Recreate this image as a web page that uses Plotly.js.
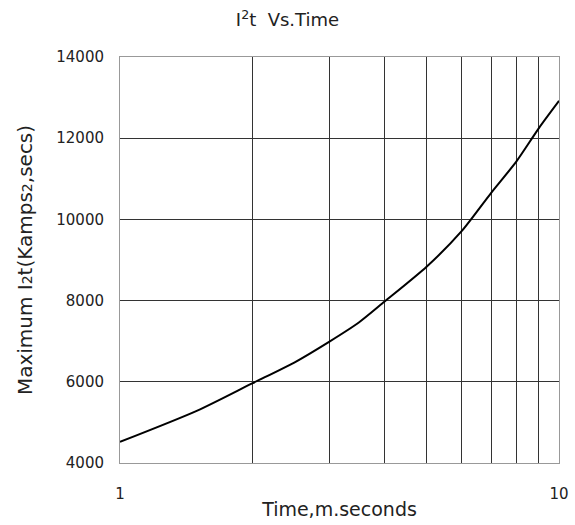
<!DOCTYPE html>
<html>
<head>
<meta charset="utf-8">
<script src="https://cdn.plot.ly/plotly-3.0.1.min.js"></script>
<style>html,body{margin:0;padding:0;background:#fff;}#chart{width:575px;height:525px;}</style>
</head>
<body>
<div id="chart"></div>
<script>
const timeMs = [1, 1.5, 2, 2.5, 3, 3.5, 4, 5, 6, 7, 8, 9, 10];
const maxI2t = [4520, 5290, 5960, 6480, 6990, 7460, 7970, 8840, 9710, 10650, 11430, 12250, 12920];
const xTickVals = [1, 10];
const xTickText = ['1', '10'];
const xGridVals = [2, 3, 4, 5, 6, 7, 8, 9];
const yTickVals = [4000, 6000, 8000, 10000, 12000, 14000];
const yTickText = ['4000', '6000', '8000', '10000', '12000', '14000'];

const trace = {
  x: timeMs, y: maxI2t, type: 'scatter', mode: 'lines',
  line: {color: '#000', width: 2, shape: 'spline', smoothing: 0.7},
  hoverinfo: 'skip'
};

const FONT = 'DejaVu Sans, Arial, sans-serif';
const layout = {
  width: 575, height: 525,
  margin: {l: 120, r: 16, t: 57, b: 62},
  paper_bgcolor: '#fff', plot_bgcolor: '#fff',
  showlegend: false,
  font: {family: FONT, color: '#222'},
  title: {text: 'I<sup>2</sup>t  Vs.Time', x: 0.50, xanchor: 'center', y: 0.962, yanchor: 'middle',
          font: {size: 18, color: '#222', family: FONT}},
  xaxis: {
    type: 'log', range: [0, 1],
    tickvals: xTickVals, ticktext: xTickText,
    showgrid: true, gridcolor: '#333', gridwidth: 1,
    minor: {tickmode: 'array', tickvals: xGridVals, showgrid: true, gridcolor: '#333', gridwidth: 1, ticks: ''},
    showline: true, linecolor: '#999', linewidth: 1, mirror: true,
    zeroline: false, ticks: '',
    ticklabelstandoff: 17,
    tickfont: {size: 15, color: '#222', family: FONT},
    title: {text: 'Time,m.seconds', font: {size: 19, color: '#222', family: FONT}, standoff: 0}
  },
  yaxis: {
    range: [4000, 14000], tickvals: yTickVals, ticktext: yTickText,
    showgrid: true, gridcolor: '#333', gridwidth: 1,
    showline: true, linecolor: '#999', linewidth: 1, mirror: true,
    zeroline: false, ticks: '',
    ticklabelstandoff: 12,
    tickfont: {size: 15, color: '#222', family: FONT},
    title: {text: 'Maximum I<span style="font-size:14px">2</span>t(Kamps<span style="font-size:14px">2</span>,secs)',
            font: {size: 20, color: '#222', family: FONT}, standoff: 18}
  }
};

Plotly.newPlot('chart', [trace], layout, {staticPlot: true, displayModeBar: false});
</script>
</body>
</html>
